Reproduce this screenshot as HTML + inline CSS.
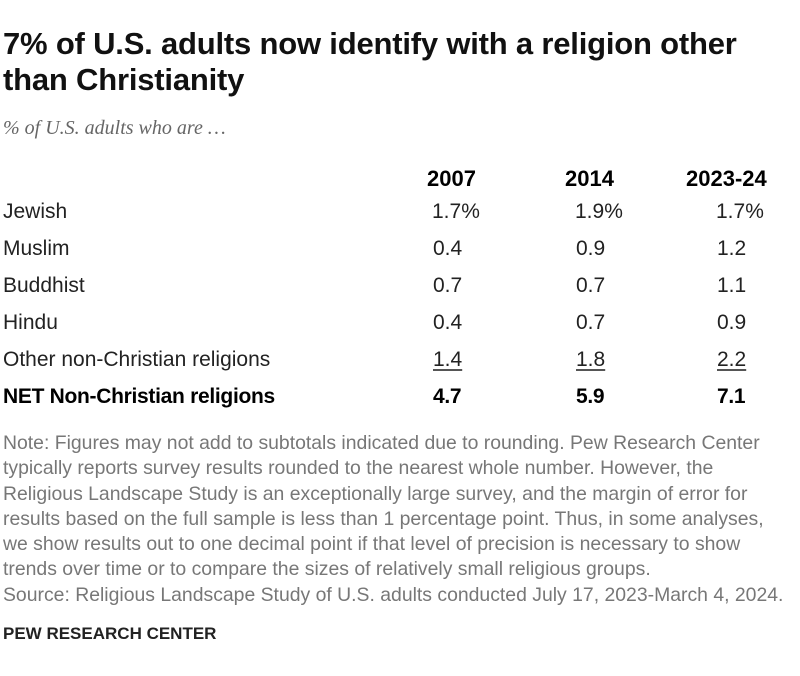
<!DOCTYPE html>
<html><head><meta charset="utf-8"><style>
body{margin:0;width:800px;height:676px;background:#fff;position:relative;overflow:hidden;font-family:"Liberation Sans",sans-serif;color:#000}
.a{position:absolute;white-space:nowrap}
.t{font-weight:bold;font-size:31px;line-height:36px;left:3px;top:26px;color:#111;letter-spacing:-0.2px}
.s{font-family:"Liberation Serif",serif;font-style:italic;font-size:20px;color:#666;left:3px;top:117px}
.h{font-weight:bold;font-size:22px;top:166px}
.r{font-size:21px;color:#222}
.b{font-weight:bold;color:#000;letter-spacing:-0.3px}
.u{text-decoration:underline;text-underline-offset:3px;text-decoration-color:#555}
.note{font-size:19.4px;color:#777;left:3px;top:431px;line-height:25.3px}
.p{font-weight:bold;font-size:17px;left:3px;top:624px;color:#222}
</style></head><body>
<div class="a t">7% of U.S. adults now identify with a religion other<br>than Christianity</div>
<div class="a s">% of U.S. adults who are …</div>
<div class="a h" style="left:427px">2007</div>
<div class="a h" style="left:565px">2014</div>
<div class="a h" style="left:686px">2023-24</div>

<div class="a r" style="left:3px;top:200px">Jewish</div>
<div class="a r" style="left:432px;top:200px">1.7%</div>
<div class="a r" style="left:575px;top:200px">1.9%</div>
<div class="a r" style="left:716px;top:200px">1.7%</div>

<div class="a r" style="left:3px;top:237px">Muslim</div>
<div class="a r" style="left:433px;top:237px">0.4</div>
<div class="a r" style="left:576px;top:237px">0.9</div>
<div class="a r" style="left:717px;top:237px">1.2</div>

<div class="a r" style="left:3px;top:274px">Buddhist</div>
<div class="a r" style="left:433px;top:274px">0.7</div>
<div class="a r" style="left:576px;top:274px">0.7</div>
<div class="a r" style="left:717px;top:274px">1.1</div>

<div class="a r" style="left:3px;top:311px">Hindu</div>
<div class="a r" style="left:433px;top:311px">0.4</div>
<div class="a r" style="left:576px;top:311px">0.7</div>
<div class="a r" style="left:717px;top:311px">0.9</div>

<div class="a r" style="left:3px;top:348px">Other non-Christian religions</div>
<div class="a r u" style="left:433px;top:348px">1.4</div>
<div class="a r u" style="left:576px;top:348px">1.8</div>
<div class="a r u" style="left:717px;top:348px">2.2</div>

<div class="a r b" style="left:3px;top:385px">NET Non-Christian religions</div>
<div class="a r b" style="left:433px;top:385px">4.7</div>
<div class="a r b" style="left:576px;top:385px">5.9</div>
<div class="a r b" style="left:717px;top:385px">7.1</div>

<div class="a note">Note: Figures may not add to subtotals indicated due to rounding. Pew Research Center<br>typically reports survey results rounded to the nearest whole number. However, the<br>Religious Landscape Study is an exceptionally large survey, and the margin of error for<br>results based on the full sample is less than 1 percentage point. Thus, in some analyses,<br>we show results out to one decimal point if that level of precision is necessary to show<br>trends over time or to compare the sizes of relatively small religious groups.<br>Source: Religious Landscape Study of U.S. adults conducted July 17, 2023-March 4, 2024.</div>
<div class="a p">PEW RESEARCH CENTER</div>
</body></html>
